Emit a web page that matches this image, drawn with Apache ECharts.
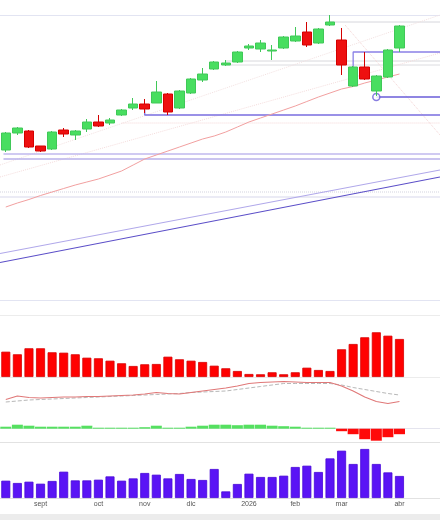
<!DOCTYPE html>
<html>
<head>
<meta charset="utf-8">
<style>html,body{margin:0;padding:0;background:#fff;}#c{width:440px;height:520px;}</style>
<script src="https://cdn.jsdelivr.net/npm/echarts@6/dist/echarts.min.js"></script>
</head>
<body>
<div id="c"></div>
<script>
// ---- categories (weekly) ----
const dates = ['2025-08-11','2025-08-18','2025-08-25','2025-09-01','2025-09-08','2025-09-15','2025-09-22','2025-09-29',
  '2025-10-06','2025-10-13','2025-10-20','2025-10-27','2025-11-03','2025-11-10','2025-11-17','2025-11-24',
  '2025-12-01','2025-12-08','2025-12-15','2025-12-22','2025-12-29','2026-01-05','2026-01-12','2026-01-19','2026-01-26',
  '2026-02-02','2026-02-09','2026-02-16','2026-02-23','2026-03-02','2026-03-09','2026-03-16','2026-03-23','2026-03-30','2026-04-06'];
const futureDates = ['2026-04-13','2026-04-20','2026-04-27'];
const tickIdx = [3, 8, 12, 16, 21, 25, 29, 34];
const tickLabels = ['sept', 'oct', 'nov', 'dic', '2026', 'feb', 'mar', 'abr'];

// ---- price candles ----
const openP  = [15.0,16.7,16.9,15.4,15.1,17.0,16.5,17.1,17.8,17.7,18.5,19.2,19.6,19.7,20.6,19.2,20.7,22.0,23.1,23.5,23.8,25.2,25.1,24.9,25.2,25.9,26.8,25.7,27.5,26.0,21.4,23.3,20.9,22.3,25.2];
const closeP = [16.7,17.2,15.3,14.9,16.8,16.6,16.9,17.8,17.4,18.0,19.0,19.6,19.1,20.8,18.8,20.9,22.1,22.6,23.8,23.7,24.8,25.4,25.7,25.0,26.3,26.4,25.5,27.1,27.8,23.5,23.3,22.1,22.4,25.0,27.4];
const lowP   = [14.8,16.5,15.2,14.8,15.0,16.3,16.0,16.8,17.3,17.5,18.4,19.0,18.7,19.7,18.5,19.1,20.6,21.8,23.0,23.4,23.7,25.0,24.8,24.0,25.1,25.8,25.3,25.6,27.4,22.5,21.3,22.0,20.4,22.2,24.8];
const highP  = [16.8,17.3,17.0,15.4,16.9,17.2,17.0,18.1,18.5,18.2,19.1,20.2,20.1,21.9,20.7,21.0,22.2,23.2,23.9,24.0,24.9,25.6,26.0,25.5,26.4,27.3,27.8,27.2,28.5,27.2,23.4,24.8,22.5,25.1,27.5];
const maP    = [9.3,9.7,10.05,10.45,10.8,11.15,11.5,11.8,12.1,12.5,12.9,13.5,14.1,14.5,14.9,15.3,15.7,16.1,16.4,16.8,17.3,17.8,18.2,18.6,19.0,19.4,19.85,20.3,20.7,21.1,21.35,21.7,22.0,22.3,22.6];

// ---- trendlines / levels (x = week index, y = price) ----
const lvlTop2     = [[28, 27.8], [37.5, 27.8]];
const lvlGrey1    = [[19, 23.9], [37.5, 23.9]];
const lvlGrey2    = [[19, 23.5], [37.5, 23.5]];
const lvlBracket  = [[30, 23.3], [30, 24.8], [37.5, 24.8]];
const lvlCircle   = [[32, 20.3], [37.5, 20.3]];
const lvlMid      = [[12, 19.0], [12, 18.5], [37.5, 18.5]];
const lvlDouble1  = [[-0.2, 14.6], [37.5, 14.6]];
const lvlDouble2  = [[-0.2, 14.1], [37.5, 14.1]];
const lvlDotted   = [[-0.5, 10.8], [37.5, 10.8]];
const lvlLow      = [[-0.5, 10.3], [37.5, 10.3]];
const lvlDotMid   = [[10, 17.7], [37.5, 17.7]];
const trendA      = [[-0.5, 4.65], [37.5, 13.0]];
const trendB      = [[-0.5, 3.75], [37.5, 12.3]];
const fanUp1      = [[-0.5, 12.3], [37.5, 24.7]];
const fanUp2      = [[-0.5, 13.5], [37.5, 28.5]];
const fanDown     = [[29.3, 27.5], [37.5, 16.5]];

// ---- indicator panels ----
const histRed = [2.53,2.27,2.87,2.87,2.47,2.43,2.27,1.93,1.87,1.63,1.37,1.10,1.27,1.30,2.03,1.77,1.63,1.50,1.13,0.87,0.60,0.30,0.27,0.47,0.27,0.47,0.93,0.70,0.60,2.77,3.30,3.97,4.47,4.13,3.80];
const oscLine = [1.45,1.80,1.65,1.60,1.65,1.70,1.70,1.75,1.75,1.80,1.85,1.90,2.00,2.15,2.05,2.00,2.15,2.30,2.45,2.60,2.80,3.05,3.15,3.20,3.25,3.20,3.15,3.15,3.15,2.80,2.30,1.70,1.25,1.05,1.25];
const oscSignal = [1.20,1.30,1.40,1.45,1.50,1.55,1.60,1.65,1.70,1.75,1.80,1.85,1.90,1.95,2.00,2.05,2.15,2.20,2.25,2.30,2.45,2.60,2.75,2.90,3.05,3.05,3.05,3.05,3.05,2.90,2.65,2.45,2.25,2.05,1.90];
const histGR = [0.2,0.4,0.3,0.2,0.2,0.2,0.2,0.3,0.1,0.1,0.1,0.1,0.15,0.3,0.1,0.1,0.2,0.3,0.4,0.4,0.35,0.4,0.4,0.3,0.25,0.2,0.1,0.1,0.1,-0.25,-0.55,-1.05,-1.2,-0.85,-0.55];
const volume = [1.73,1.50,1.63,1.43,1.70,2.63,1.76,1.76,1.83,2.16,1.73,1.96,2.50,2.33,1.96,2.40,1.90,1.80,2.90,0.66,1.40,2.43,2.10,2.10,2.23,3.10,3.23,2.60,3.96,4.73,3.40,4.90,3.40,2.56,2.20];

// ---- build ----
const cats = dates.concat(futureDates);
const candleData = openP.map((o, i) => [o, closeP[i], lowP[i], highP[i]]);

const chart = echarts.init(document.getElementById('c'), null, {renderer: 'canvas'});
const G = {left: -2, right: 0};
function catAxis(gi, extra) {
  return Object.assign({type: 'category', gridIndex: gi, data: cats, boundaryGap: true,
    axisLine: {show: false}, axisTick: {show: false}, axisLabel: {show: false}, splitLine: {show: false}}, extra || {});
}
function valAxis(gi, min, max, split) {
  return {type: 'value', gridIndex: gi, min: min, max: max, interval: split ? (max - min) : undefined,
    axisLine: {show: false}, axisTick: {show: false}, axisLabel: {show: false},
    splitLine: {show: !!split, lineStyle: {color: split || '#eee', width: 1}}};
}
function ovl(data, color, width, type, extra) {
  return Object.assign({type: 'line', xAxisIndex: 1, yAxisIndex: 0, data: data, symbol: 'none',
    lineStyle: {color: color, width: width, type: type || 'solid'}, z: 2, silent: true, animation: false}, extra || {});
}

const option = {
  animation: false,
  backgroundColor: '#ffffff',
  grid: [
    Object.assign({top: 15, height: 285}, G),
    Object.assign({top: 315, height: 62}, G),
    Object.assign({top: 378, height: 36}, G),
    Object.assign({top: 414, height: 28}, G),
    Object.assign({top: 442, height: 56}, G)
  ],
  xAxis: [
    catAxis(0),
    {type: 'value', gridIndex: 0, min: -0.5, max: 37.5, show: false},
    catAxis(1),
    catAxis(2),
    catAxis(3, {axisLine: {show: true, onZero: true, lineStyle: {color: '#e4e4ee', width: 1}}}),
    catAxis(4, {axisLabel: {show: true, fontSize: 7, color: '#555', margin: 3, fontFamily: 'Liberation Sans',
      interval: (i) => tickIdx.indexOf(i) >= 0,
      formatter: (v, i) => { const k = tickIdx.indexOf(i); return k >= 0 ? tickLabels[k] : ''; }}})
  ],
  yAxis: [
    valAxis(0, 0, 28.5, '#e2e4f2'),
    valAxis(1, 0, 6.2, '#ececec'),
    valAxis(2, 0, 3.6),
    valAxis(3, -1.33, 1.47),
    valAxis(4, 0, 5.6, '#e2e2e2')
  ],
  series: [
    ovl(lvlTop2, '#d6d6dc', 1),
    ovl(lvlGrey1, '#d8d8dc', 1),
    ovl(lvlGrey2, '#dcdce0', 1),
    ovl(lvlDotMid, '#f3d6d6', 1, 'dotted'),
    ovl(fanUp1, '#f4dcdc', 1, 'dotted'),
    ovl(fanUp2, '#f2e0e0', 1, 'dotted'),
    ovl(fanDown, '#f2d2d2', 1, 'dotted'),
    ovl(lvlDotted, '#d4d4e0', 1, 'dotted'),
    ovl(lvlLow, '#e4e4f2', 1.5),
    ovl(lvlDouble1, '#c0b8ee', 1.5),
    ovl(lvlDouble2, '#b8b0ea', 1.5),
    ovl(trendA, '#b0a8ea', 1.2),
    ovl(trendB, '#5b4ec8', 1.2),
    ovl(lvlMid, '#7a6ee0', 1.3),
    ovl(lvlBracket, '#8a80e6', 1.3),
    ovl(lvlCircle, '#6a5cd8', 1.5),
    {type: 'scatter', xAxisIndex: 1, yAxisIndex: 0, data: [lvlCircle[0]], symbol: 'circle', symbolSize: 7,
      itemStyle: {color: '#fff', borderColor: '#6a5cd8', borderWidth: 1.5}, z: 4, silent: true},
    {type: 'line', xAxisIndex: 0, yAxisIndex: 0, data: maP, symbol: 'none',
      lineStyle: {color: '#f2a0a0', width: 1}, z: 3, silent: true},
    {type: 'candlestick', xAxisIndex: 0, yAxisIndex: 0, data: candleData, barWidth: 10, z: 5,
      itemStyle: {color: '#48de60', color0: '#ee1010', borderColor: '#40c858', borderColor0: '#d40000', borderWidth: 1}},
    {type: 'bar', xAxisIndex: 2, yAxisIndex: 1, data: histRed, barWidth: 9,
      itemStyle: {color: '#ff0000', borderColor: '#d80000', borderWidth: 0.8}},
    {type: 'line', xAxisIndex: 3, yAxisIndex: 2, data: oscSignal, symbol: 'none',
      lineStyle: {color: '#b8b8b8', width: 1, type: 'dashed'}},
    {type: 'line', xAxisIndex: 3, yAxisIndex: 2, data: oscLine, symbol: 'none',
      lineStyle: {color: '#e07878', width: 1.1}},
    {type: 'bar', xAxisIndex: 4, yAxisIndex: 3, barWidth: 11,
      data: histGR.map(v => ({value: v, itemStyle: {color: v >= 0 ? '#55e060' : '#ff0a0a'}}))},
    {type: 'bar', xAxisIndex: 5, yAxisIndex: 4, data: volume, barWidth: 9,
      itemStyle: {color: '#5a14f5', borderColor: '#4808d8', borderWidth: 0.8}}
  ],
  graphic: [
    {type: 'rect', left: 0, bottom: 0, shape: {width: 440, height: 6}, style: {fill: '#ececec'}, silent: true}
  ]
};
chart.setOption(option);
</script>
</body>
</html>
